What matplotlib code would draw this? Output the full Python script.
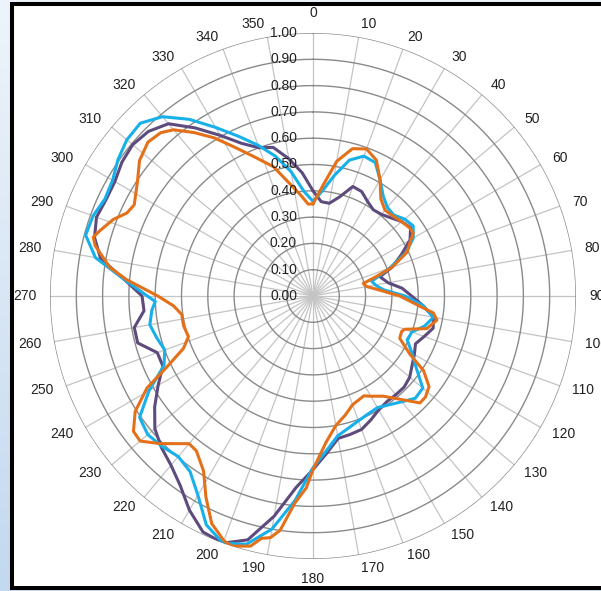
import numpy as np
import matplotlib
matplotlib.use("Agg")
import matplotlib.pyplot as plt
from matplotlib.patches import Rectangle
from matplotlib.colors import LinearSegmentedColormap

plt.rcParams['font.family'] = ['Liberation Sans', 'DejaVu Sans']

# ---- data (angle in degrees, clockwise from north; relative value) ----
purple_deg = [0, 5, 10, 15, 20, 25, 30, 35, 40, 45, 50, 55, 60, 65, 70, 74, 80, 85, 90,
              95, 100, 105, 110, 115, 120, 125, 130, 135, 140, 145, 150, 155, 160, 165,
              170, 175, 180, 185, 190, 195, 200, 205, 210, 215, 220, 225, 230, 235, 240,
              245, 250, 255, 260, 265, 270, 275, 280, 285, 290, 295, 300, 305, 310, 315,
              320, 325, 330, 335, 340, 345, 350, 355, 360]
purple_val = [0.40, 0.36, 0.358, 0.39, 0.443, 0.438, 0.415, 0.40, 0.405, 0.42, 0.44, 0.453,
              0.426, 0.37, 0.32, 0.265, 0.29, 0.34, 0.375, 0.42, 0.465, 0.473, 0.45, 0.43,
              0.445, 0.46, 0.48, 0.49, 0.49, 0.49, 0.50, 0.52, 0.54, 0.545, 0.55, 0.60,
              0.66, 0.73, 0.85, 0.96, 1.00, 0.99, 0.94, 0.88, 0.84, 0.815, 0.785, 0.735,
              0.68, 0.63, 0.63, 0.69, 0.69, 0.645, 0.65, 0.72, 0.82, 0.86, 0.876, 0.868,
              0.87, 0.887, 0.895, 0.885, 0.855, 0.78, 0.705, 0.64, 0.60, 0.585, 0.53,
              0.47, 0.40]

cyan_deg = [0, 5, 10, 15, 20, 25, 30, 35, 40, 45, 50, 55, 60, 65, 70, 76, 81, 85, 90,
            95, 100, 105, 110, 115, 120, 125, 130, 135, 140, 145, 150, 155, 160, 165, 170,
            175, 180, 185, 190, 195, 200, 205, 210, 215, 220, 225, 230, 235, 240, 245,
            250, 255, 260, 265, 268, 270, 275, 280, 285, 290, 295, 300, 305, 310, 315,
            320, 325, 330, 335, 340, 345, 350, 355, 360]
cyan_val = [0.36, 0.40, 0.465, 0.535, 0.566, 0.56, 0.51, 0.465, 0.44, 0.435, 0.455, 0.465,
            0.44, 0.39, 0.31, 0.23, 0.245, 0.27, 0.35, 0.42, 0.465, 0.44, 0.40, 0.395,
            0.435, 0.48, 0.545, 0.55, 0.525, 0.505, 0.49, 0.495, 0.505, 0.52, 0.54, 0.59,
            0.653, 0.78, 0.90, 0.977, 1.00, 0.96, 0.875, 0.815, 0.797, 0.81, 0.82, 0.805,
            0.72, 0.625, 0.60, 0.615, 0.63, 0.615, 0.60, 0.63, 0.72, 0.84, 0.895, 0.89,
            0.873, 0.88, 0.905, 0.924, 0.929, 0.89, 0.82, 0.74, 0.67, 0.61, 0.55, 0.48,
            0.40, 0.36]

orange_deg = [0, 5, 10, 15, 20, 25, 30, 35, 40, 45, 50, 55, 58, 60, 65, 70, 73, 76, 80,
              85, 90, 95, 98, 101, 106, 110, 112, 116, 121, 124, 128, 132, 135, 138, 145,
              150, 153, 160, 165, 170, 175, 180, 182, 185, 188, 190, 192, 194, 198, 200,
              204, 208, 212, 217, 220, 226, 230, 233, 237, 241, 244, 248, 252, 257, 262,
              266, 270, 275, 278, 283, 285, 287, 291, 294, 297, 303, 308, 313, 317, 320,
              324, 328, 332, 337, 343, 348, 353, 357, 360]
orange_val = [0.35, 0.42, 0.52, 0.58, 0.595, 0.57, 0.51, 0.45, 0.426, 0.43, 0.44, 0.45,
              0.45, 0.43, 0.395, 0.32, 0.25, 0.197, 0.207, 0.255, 0.33, 0.40, 0.462, 0.48,
              0.45, 0.37, 0.363, 0.367, 0.43, 0.507, 0.56, 0.575, 0.575, 0.535, 0.465,
              0.44, 0.426, 0.44, 0.47, 0.50, 0.56, 0.66, 0.73, 0.79, 0.90, 0.933, 0.942,
              0.98, 1.00, 0.99, 0.947, 0.867, 0.785, 0.737, 0.733, 0.808, 0.858, 0.855,
              0.806, 0.722, 0.62, 0.531, 0.498, 0.505, 0.504, 0.532, 0.59, 0.711, 0.78,
              0.85, 0.865, 0.848, 0.813, 0.775, 0.763, 0.796, 0.837, 0.858, 0.849, 0.825,
              0.768, 0.709, 0.643, 0.576, 0.514, 0.44, 0.387, 0.35, 0.35]

angle_ticks = list(range(0, 360, 10))
radial_ticks = [0.0, 0.1, 0.2, 0.3, 0.4, 0.5, 0.6, 0.7, 0.8, 0.9, 1.0]

series = [
    (purple_deg, purple_val, '#5E4B7E'),
    (cyan_deg, cyan_val, '#17B0EA'),
    (orange_deg, orange_val, '#E4701A'),
]

W, H = 601, 591
fig = plt.figure(figsize=(W / 100, H / 100), dpi=100)

# background: light blue gradient on the left, white framed chart area
bg = fig.add_axes([0, 0, 1, 1], zorder=-10)
grad = np.linspace(0, 1, 256).reshape(-1, 1)
cmap = LinearSegmentedColormap.from_list('bg', ['#eef4fb', '#c3d9ef'])
bg.imshow(grad, aspect='auto', cmap=cmap, extent=[0, 1, 0, 1], origin='upper')
bg.set_xlim(0, 1)
bg.set_ylim(0, 1)
bg.axis('off')
bg.add_patch(Rectangle((11.5 / W, 3.5 / H), 1.0, (587.5 - 3.5) / H,
                       transform=bg.transAxes, facecolor='white', edgecolor='black',
                       linewidth=2.9, zorder=2))

cx, cy, R = 313, 296, 263
ax = fig.add_axes([(cx - R) / W, (H - cy - R) / H, 2 * R / W, 2 * R / H],
                  projection='polar', zorder=1)
ax.set_facecolor('none')
ax.set_theta_zero_location('N')
ax.set_theta_direction(-1)
ax.set_ylim(0, 1.0)
ax.spines['polar'].set_visible(False)
ax.grid(False)
ax.set_xticks([])
ax.set_yticks([])

# grid circles
th = np.linspace(0, 2 * np.pi, 721)
for r in radial_ticks[1:]:
    ax.plot(th, np.full_like(th, r), color='#8a8a8a', lw=1.0, zorder=1)
# spokes
for a in angle_ticks:
    ax.plot([np.deg2rad(a)] * 2, [0, 1.0], color='#c4c4c4', lw=0.9, zorder=0.9)

# series
for deg, val, col in series:
    ax.plot(np.deg2rad(deg), val, color=col, lw=2.2, zorder=3,
            solid_joinstyle='round', solid_capstyle='round')

# angle labels
rl = 276 / R
for a in angle_ticks:
    s = np.sin(np.deg2rad(a))
    c = np.cos(np.deg2rad(a))
    if abs(s) < 1e-6:
        ha = 'center'
        va = 'bottom' if c > 0 else 'top'
    else:
        ha = 'left' if s > 0 else 'right'
        va = 'center'
    ax.text(np.deg2rad(a), rl, str(a), ha=ha, va=va, fontsize=10,
            color='#222222', clip_on=False, zorder=4)

# radial labels (left of the 0 degree spoke)
for r in radial_ticks:
    ax.annotate(f'{r:.2f}', xy=(0, r), xycoords='data', xytext=(-11.5, 0),
                textcoords='offset points', ha='right', va='center', fontsize=10,
                color='#222222', zorder=4, annotation_clip=False)

fig.savefig('out.png', dpi=100)
